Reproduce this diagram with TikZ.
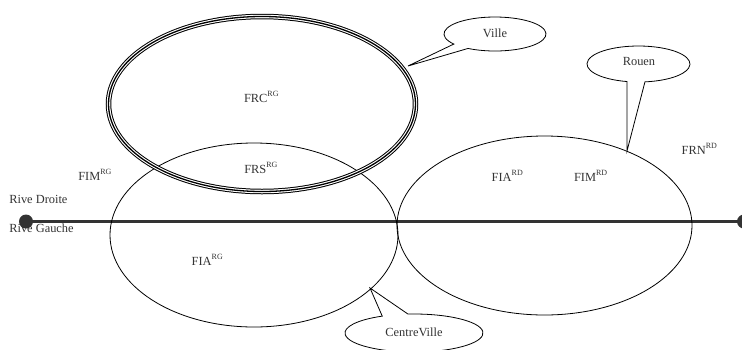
\documentclass[tikz,border=0pt]{standalone}
\usepackage{fontspec}
\setmainfont{Liberation Serif}
\usetikzlibrary{calc}
\newcommand\upx[1]{\raisebox{5.7pt}{\fontsize{8}{8}\selectfont #1}}
\definecolor{ink}{HTML}{333333}
\tikzset{
  lbl/.style={inner sep=0pt, outer sep=0pt, text=ink, font=\fontsize{12.4}{14}\selectfont},
  thin/.style={draw=black, line width=0.8pt},
  river/.style={draw=ink, line width=3.3pt},
  dot/.style={fill=ink},
}
\begin{document}
\begin{tikzpicture}[x=1pt, y=-1pt]
\useasboundingbox (0,0) rectangle (742,349);
\clip (0,0) rectangle (742,349);
% river line
\coordinate (rl) at (26,221.5);
\coordinate (rr) at (744,221.5);
\draw[river] (rl) -- (rr);
\fill[dot] (rl) circle[radius=7];
\fill[dot] (rr) circle[radius=7];
% zones
\draw[thin] (254,235) ellipse[x radius=144, y radius=92];
\draw[thin] (544.5,225.5) ellipse[x radius=147.5, y radius=89.5];
% triple ellipse
\draw[black, line width=5.5pt] (262,104) ellipse[x radius=153.5, y radius=87.5];
\draw[white, line width=3.5pt] (262,104) ellipse[x radius=153.5, y radius=87.5];
\draw[black, line width=1.3pt] (262,104) ellipse[x radius=153.5, y radius=87.5];
% callouts
\draw[thin, line join=miter] ($(495,34)+(143.8:51 and 17)$) arc[start angle=143.8, end angle=481.9, x radius=51, y radius=17] -- (408,66) -- cycle;
\draw[thin, line join=miter] ($(638.5,64)+(102.9:51.5 and 18)$) arc[start angle=102.9, end angle=442.8, x radius=51.5, y radius=18] -- (627,151) -- cycle;
\draw[thin, line join=miter] ($(414,333)+(-95:69 and 19)$) arc[start angle=-95, end angle=242.6, x radius=69, y radius=19] -- (370,288) -- cycle;
% labels
\node[lbl, anchor=base west] (frc) at (244,102.3) {FRC\upx{RG}};
\node[lbl, anchor=base west] (frs) at (244.3,173) {FRS\upx{RG}};
\node[lbl, anchor=base west] (fimrg) at (78.3,180.5) {FIM\upx{RG}};
\node[lbl, anchor=base west] (rd) at (9.3,203) {Rive Droite};
\node[lbl, anchor=base west] (rg) at (9.3,232.5) {Rive Gauche};
\node[lbl, anchor=base west] (fiarg) at (191.7,265) {FIA\upx{RG}};
\node[lbl, anchor=base west] (fiard) at (491.7,181.5) {FIA\upx{RD}};
\node[lbl, anchor=base west] (fimrd) at (574,181.5) {FIM\upx{RD}};
\node[lbl, anchor=base west] (frn) at (681.7,154.5) {FRN\upx{RD}};
\node[lbl, anchor=base] (ville) at (495,37) {Ville};
\node[lbl, anchor=base] (rouen) at (639,65) {Rouen};
\node[lbl, anchor=base] (cv) at (414,336) {CentreVille};
\end{tikzpicture}
\end{document}
